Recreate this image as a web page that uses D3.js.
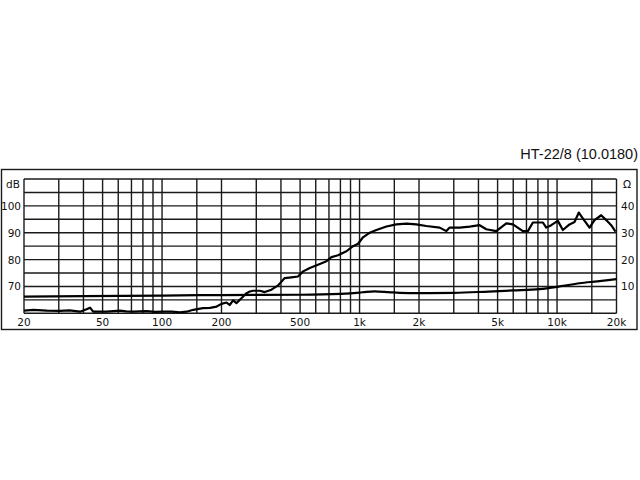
<!DOCTYPE html>
<html lang="en">
<head>
  <meta charset="UTF-8">
  <script src="https://d3js.org/d3.v7.min.js"></script>
  <style>
    body {
      background-color: #fff;
      margin: 0;
      overflow: hidden;
    }
    svg {
      display: block;
    }
    .grid line {
      stroke: #1a1a1a;
      stroke-width: 1.4;
    }
    .tick-label {
      font-family: "DejaVu Sans", Verdana, sans-serif;
      font-size: 10.5px;
      fill: #111;
    }
    .curve {
      fill: none;
      stroke: #000;
      stroke-width: 2.2;
      stroke-linejoin: round;
    }
  </style>
</head>
<body>

<svg width="640" height="480"></svg>

<script>
  // frequency response (SPL)
  const splFreq = [20, 22.3, 26.1, 30.4, 34, 38.4, 41.5, 43.2, 44.8, 52.4, 61.2, 66, 71.5, 83.5, 92, 101, 112, 123,
    133, 144, 161, 175, 189, 200, 212, 220, 229, 238, 253, 268, 278, 289, 313, 331, 358, 387, 418, 452, 488,
    518, 560, 616, 680, 721, 778, 858, 927, 983, 1041, 1104, 1126, 1217, 1368, 1537, 1727, 1940, 2179, 2545,
    2752, 2859, 3212, 3609, 4055, 4382, 4924, 5534, 5977, 6714, 7118, 7546, 8478, 8817, 9346, 10093, 10700,
    11566, 12261, 12892, 13614, 14603, 15478, 16733, 17740, 18805, 19770];
  const splDb = [61.0, 61.3, 61.0, 60.9, 61.1, 60.6, 61.5, 62.1, 60.6, 60.6, 61.0, 60.7, 60.6, 60.8, 60.5, 60.6, 60.6, 60.4,
    60.6, 61.3, 61.9, 62.0, 62.5, 63.5, 64.0, 63.1, 64.8, 63.8, 65.7, 67.5, 68.1, 68.4, 68.4, 67.9, 68.8, 70.4, 73.1, 73.4, 73.7,
    75.6, 76.9, 78.1, 79.4, 80.9, 81.6, 83.1, 85.0, 85.9, 88.3, 89.6, 90.0, 91.0, 92.3, 93.1, 93.4, 93.1, 92.5, 91.9,
    90.6, 91.9, 91.9, 92.3, 92.8, 91.3, 90.6, 93.5, 93.1, 90.6, 90.6, 93.8, 93.8, 91.9, 92.8, 94.4, 91.0,
    93.1, 94.0, 97.5, 95.0, 91.9, 94.7, 96.5, 94.7, 92.8, 90.4];

  // impedance curve
  const impFreq = [20, 40, 100, 200, 500, 800, 1000, 1080, 1190, 1400, 1600, 2000, 3000, 4500, 6000, 8150, 10300, 13000, 16000, 20000];
  const impOhm = [6.2, 6.4, 6.6, 6.8, 6.9, 7.2, 7.7, 8.0, 8.2, 7.9, 7.6, 7.5, 7.6, 8.1, 8.5, 9.0, 10.0, 11.2, 11.9, 12.7];

  // axes
  const freqGrid = [20, 30, 40, 50, 60, 70, 80, 90, 100, 150, 200, 300, 400, 500, 600, 700, 800, 900,
    1000, 1500, 2000, 3000, 4000, 5000, 6000, 7000, 8000, 9000, 10000, 15000, 20000];
  const freqLabels = [20, 50, 100, 200, 500, 1000, 2000, 5000, 10000, 20000];
  const freqText = ['20', '50', '100', '200', '500', '1k', '2k', '5k', '10k', '20k'];
  const dbGrid = [60, 65, 70, 75, 80, 85, 90, 95, 100, 105, 110];
  const dbLabels = [70, 80, 90, 100];
  const ohmLabels = [10, 20, 30, 40];

  const plotLeft = 24, plotRight = 616.5, plotTop = 179, plotBottom = 313.3;

  const x = d3.scaleLog().domain([20, 20000]).range([plotLeft, plotRight]);
  const yDb = d3.scaleLinear().domain([60, 110]).range([plotBottom, plotTop]);
  const yOhm = d3.scaleLinear().domain([0, 50]).range([plotBottom, plotTop]);

  const svg = d3.select('svg');

  // outer frame
  svg.append('rect')
    .attr('x', 1.5).attr('y', 169.5)
    .attr('width', 635.5).attr('height', 160)
    .attr('fill', 'none').attr('stroke', '#1a1a1a').attr('stroke-width', 1.4);

  // title
  svg.append('text')
    .attr('x', 638).attr('y', 158.5)
    .attr('text-anchor', 'end')
    .style('font-family', '"Liberation Sans", Arial, sans-serif')
    .style('font-size', '14.5px')
    .style('fill', '#111')
    .text('HT-22/8 (10.0180)');

  // grid
  const grid = svg.append('g').attr('class', 'grid');
  grid.selectAll('line.v')
    .data(freqGrid)
    .enter().append('line')
    .attr('class', 'v')
    .attr('x1', d => x(d)).attr('x2', d => x(d))
    .attr('y1', plotTop).attr('y2', plotBottom);
  grid.selectAll('line.h')
    .data(dbGrid)
    .enter().append('line')
    .attr('class', 'h')
    .attr('x1', plotLeft).attr('x2', plotRight)
    .attr('y1', d => yDb(d)).attr('y2', d => yDb(d));

  // tick labels
  svg.selectAll('text.xl')
    .data(freqLabels)
    .enter().append('text')
    .attr('class', 'tick-label xl')
    .attr('x', d => x(d))
    .attr('y', 326)
    .attr('text-anchor', 'middle')
    .text((d, i) => freqText[i]);

  svg.selectAll('text.yl')
    .data(dbLabels)
    .enter().append('text')
    .attr('class', 'tick-label yl')
    .attr('x', 21)
    .attr('y', d => yDb(d) + 4)
    .attr('text-anchor', 'end')
    .text(d => d);

  svg.selectAll('text.yr')
    .data(ohmLabels)
    .enter().append('text')
    .attr('class', 'tick-label yr')
    .attr('x', 621)
    .attr('y', d => yOhm(d) + 4)
    .attr('text-anchor', 'start')
    .text(d => d);

  svg.append('text')
    .attr('class', 'tick-label')
    .attr('x', 6).attr('y', 188)
    .text('dB');
  svg.append('text')
    .attr('class', 'tick-label')
    .attr('x', 623).attr('y', 188)
    .text('Ω');

  // curves
  const spl = splFreq.map((f, i) => [f, splDb[i]]);
  const imp = impFreq.map((f, i) => [f, impOhm[i]]);

  svg.append('path')
    .datum(imp)
    .attr('class', 'curve')
    .attr('d', d3.line().x(d => x(d[0])).y(d => yOhm(d[1])).curve(d3.curveMonotoneX));

  svg.append('path')
    .datum(spl)
    .attr('class', 'curve')
    .attr('d', d3.line().x(d => x(d[0])).y(d => yDb(d[1])));
</script>

</body>
</html>
